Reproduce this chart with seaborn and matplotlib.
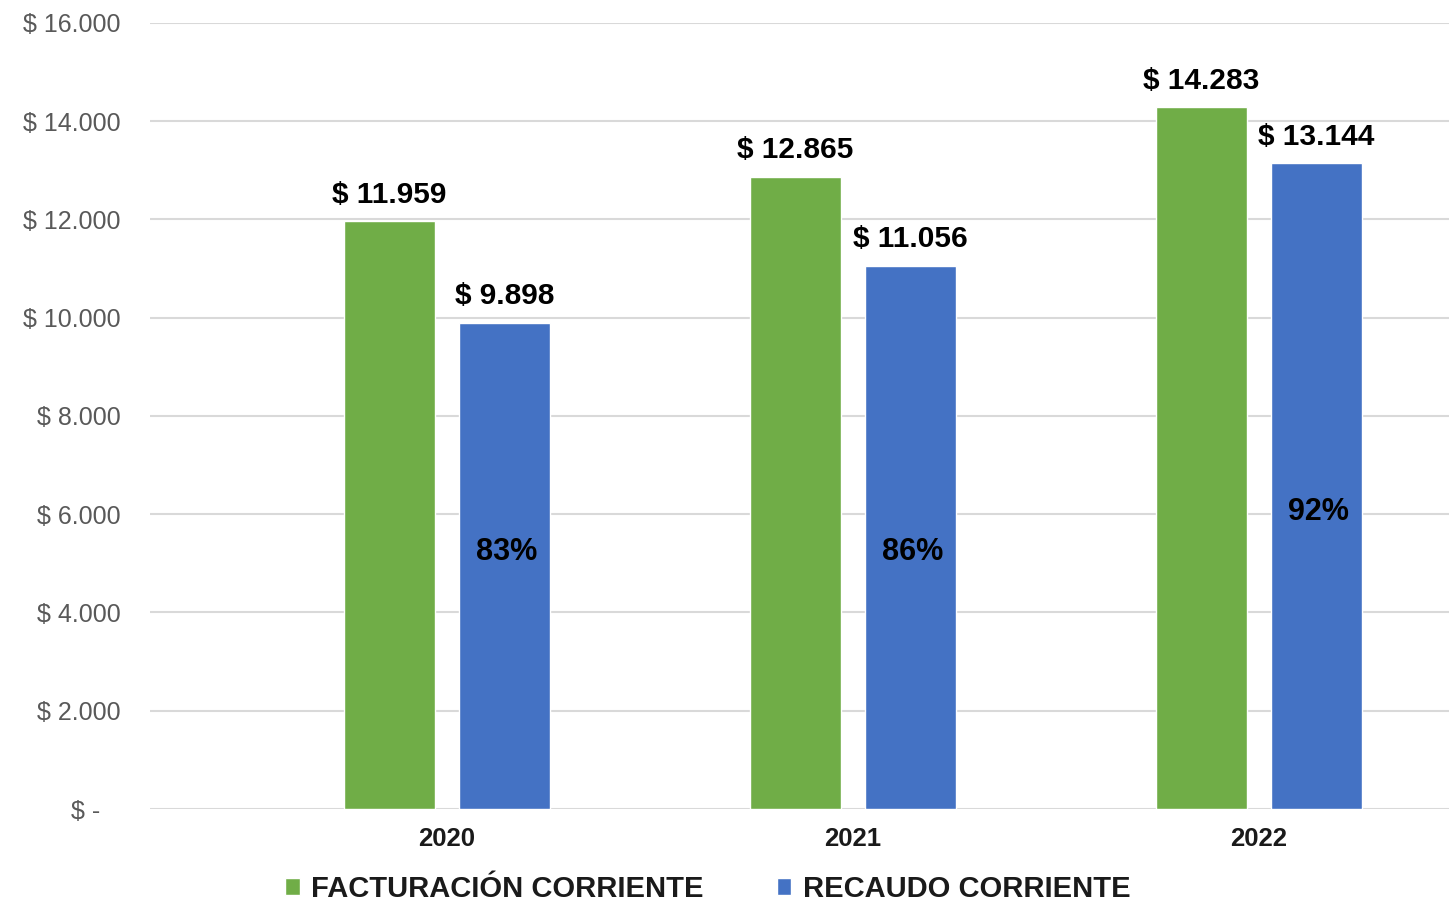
import pandas as pd
import matplotlib.pyplot as plt
import matplotlib.ticker as ticker
import seaborn as sns

# Data
years = ["2020", "2021", "2022"]
facturacion = [11959, 12865, 14283]
recaudo = [9898, 11056, 13144]
pct_labels = ["83%", "86%", "92%"]
pct_label_y = [5230, 5230, 6050]
series_names = ["FACTURACIÓN CORRIENTE", "RECAUDO CORRIENTE"]

df = pd.DataFrame({
    "year": years * 2,
    "value": facturacion + recaudo,
    "serie": [series_names[0]] * 3 + [series_names[1]] * 3,
})

sns.set_style("white")
plt.rcParams['font.family'] = ['Liberation Sans', 'DejaVu Sans']

fig = plt.figure(figsize=(14.49, 9.01), dpi=100)
ax = fig.add_axes([0.1035, 0.1021, 0.8965, 0.8724])

palette = {series_names[0]: "#70AD47", series_names[1]: "#4472C4"}

sns.barplot(
    data=df, x="year", y="value", hue="serie",
    palette=palette, width=0.567, gap=0.21,
    saturation=1, ax=ax, legend=True,
)

ax.set_ylim(0, 16000)
ax.set_xlim(-0.731, 2.468)
ax.set_yticks(range(0, 16001, 2000))


def money(x, pos):
    if x == 0:
        return "$ -   "
    return "$ " + f"{x:,.0f}".replace(",", ".")


ax.yaxis.set_major_formatter(ticker.FuncFormatter(money))
ax.tick_params(axis='y', length=0, pad=21, labelsize=18, labelcolor="#595959")
ax.tick_params(axis='x', length=0, pad=13, labelsize=18.5, labelcolor="#1a1a1a")
for lab in ax.get_xticklabels():
    lab.set_fontweight('bold')

ax.set_xlabel("")
ax.set_ylabel("")

# gridlines
ax.grid(axis='y', color='#d9d9d9', linewidth=1.5)
ax.set_axisbelow(True)
for spine in ['top', 'right', 'left', 'bottom']:
    ax.spines[spine].set_visible(False)

# value labels on top of bars
for cont in ax.containers:
    ax.bar_label(
        cont,
        labels=["$ " + f"{v:,.0f}".replace(",", ".") for v in cont.datavalues],
        padding=9, fontsize=21.5, fontweight='bold', color='black',
    )

# percentage labels inside the blue bars
blue_bars = ax.containers[1]
for bar, txt, yv in zip(blue_bars, pct_labels, pct_label_y):
    ax.text(
        bar.get_x() + bar.get_width() / 2 + 0.005, yv, txt,
        ha='center', va='center', fontsize=22, fontweight='bold', color='black',
    )

# legend at the bottom
handles, labels = ax.get_legend_handles_labels()
ax.get_legend().remove()
fig.legend(
    handles, labels, loc='center', bbox_to_anchor=(708 / 1449, 1 - 889 / 901),
    ncol=2, frameon=False, prop={'size': 21, 'weight': 'bold'},
    handlelength=0.5, handleheight=0.5, handletextpad=0.4, columnspacing=2.5,
    labelcolor='#1a1a1a',
)

fig.savefig("out.png", dpi=100)
